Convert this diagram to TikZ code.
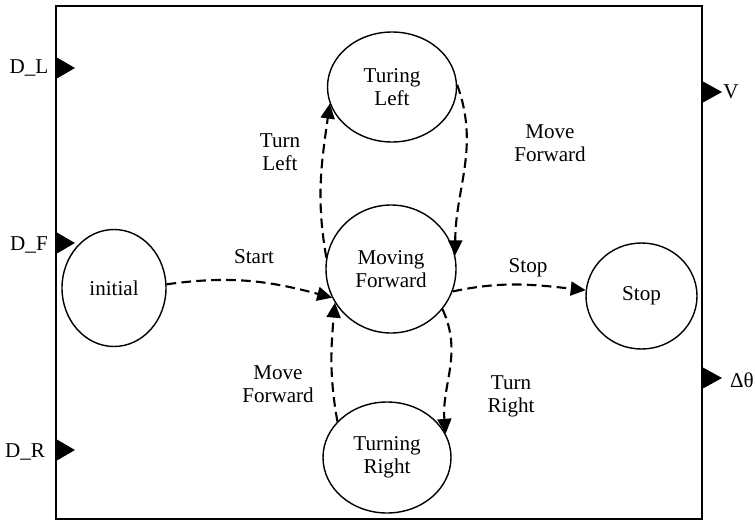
\documentclass[tikz,border=0pt]{standalone}
\usepackage{fontspec}
\setmainfont{Liberation Serif}
\usetikzlibrary{arrows.meta,shapes.geometric}

\begin{document}
\begin{tikzpicture}[
  every node/.style={font=\fontsize{12}{13}\selectfont, align=center},
  state/.style={draw, ellipse, line width=0.8pt, inner sep=0pt},
  trans/.style={line width=1.2pt, dash pattern=on 5.5pt off 3pt, -{Triangle[length=8.5pt, width=8pt]}}
]
\useasboundingbox (0,0) rectangle (15.1,10.44);

% block outline
\draw[line width=0.8pt] (1.12,0.06) rectangle (14.04,10.32);

% input ports
\fill (1.12,9.30) -- (1.50,9.08) -- (1.12,8.86) -- cycle;
\fill (1.12,5.80) -- (1.50,5.58) -- (1.12,5.36) -- cycle;
\fill (1.12,1.66) -- (1.50,1.44) -- (1.12,1.22) -- cycle;

\node (dl_label) at (0.58, 9.09) {D\_L};
\node (df_label) at (0.58, 5.54) {D\_F};
\node (dr_label) at (0.50, 1.40) {D\_R};

% output ports
\fill (14.04,8.82) -- (14.44,8.60) -- (14.04,8.38) -- cycle;
\fill (14.04,3.10) -- (14.44,2.88) -- (14.04,2.66) -- cycle;

\node (v_label) at (14.62, 8.60) {V};
\node (dtheta_label) at (14.84, 2.84) {Δθ};

% states
\node[state, minimum width=2.08cm, minimum height=2.34cm] (init) at (2.28, 4.68) {initial};
\node[state, minimum width=2.58cm, minimum height=2.20cm] (tl) at (7.84, 8.70) {Turing\\Left};
\node[state, minimum width=2.60cm, minimum height=2.56cm] (mf) at (7.82, 5.06) {Moving\\Forward};
\node[state, minimum width=2.56cm, minimum height=2.22cm] (tr) at (7.74, 1.29) {Turning\\Right};
\node[state, minimum width=2.22cm, minimum height=2.12cm] (stop) at (12.83, 4.52) {Stop};

% transitions
\draw[trans] (init.4) to[out=8, in=165] (mf.206);
\draw[trans] (mf.170) to[out=100, in=262] (tl.195);
\draw[trans] (tl.2) to[out=-70, in=90] (mf.12);
\draw[trans] (mf.-20) to[out=12, in=174] (stop.174);
\draw[trans] (mf.-38) to[out=-65, in=95] (tr.22);
\draw[trans] (tr.144) to[out=100, in=265] (mf.211);

% transition labels
\node (start_label) at (5.08, 5.30) {Start};
\node (stop_label) at (10.56, 5.08) {Stop};
\node (turnleft_label) at (5.60, 7.40) {Turn\\Left};
\node (fwd1_label) at (11.00, 7.58) {Move\\Forward};
\node (fwd2_label) at (5.56, 2.76) {Move\\Forward};
\node (turnright_label) at (10.22, 2.52) {Turn\\Right};

\end{tikzpicture}
\end{document}
